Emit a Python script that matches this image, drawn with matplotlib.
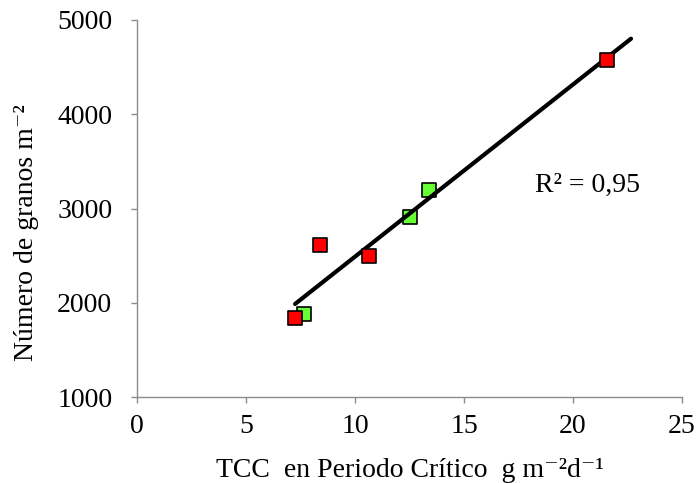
import numpy as np
import matplotlib as mpl
import matplotlib.pyplot as plt

mpl.rcParams.update({
    "font.family": ["Liberation Serif", "DejaVu Serif"],
    "font.size": 20,
})

# TCC in critical period (g m-2 d-1) vs grain number (m-2)
tcc_red = [7.25, 8.39, 10.64, 21.56]
granos_red = [1838, 2613, 2496, 4576]
tcc_green = [7.66, 12.52, 13.39]
granos_green = [1881, 2910, 3196]

x_all = np.array(tcc_red + tcc_green)
y_all = np.array(granos_red + granos_green)
slope, intercept = np.polyfit(x_all, y_all, 1)
x_fit = np.array([x_all.min(), x_all.max() + 1.1])

fig = plt.figure(figsize=(6.97, 4.83), dpi=100)
ax = fig.add_axes([0.1966, 0.178, 0.7819, 0.7806])

ax.plot(x_fit, slope * x_fit + intercept, color="k", lw=3,
        solid_capstyle="round", zorder=3)
ax.scatter(tcc_green, granos_green, marker="s", s=95, c="#66ff33",
           edgecolors="k", linewidths=1.2, zorder=2)
ax.scatter(tcc_red, granos_red, marker="s", s=95, c="#ff0000",
           edgecolors="k", linewidths=1.2, zorder=4)

ax.text(18.26, 3175, "R² = 0,95", fontsize=20, va="baseline", ha="left")

ax.set_xlim(0, 25)
ax.set_ylim(1000, 5000)
ax.set_xticks([0, 5, 10, 15, 20, 25])
ax.set_yticks([1000, 2000, 3000, 4000, 5000])
for s in ("top", "right"):
    ax.spines[s].set_visible(False)
for s in ("left", "bottom"):
    ax.spines[s].set_color("#8c8c8c")
    ax.spines[s].set_linewidth(1.0)
ax.tick_params(colors="#8c8c8c", labelcolor="k", length=4.3, width=1.0,
               labelsize=20)
ax.tick_params(axis="x", pad=8)
ax.tick_params(axis="y", pad=13.5)

xl = ax.set_xlabel("TCC  en Periodo Crítico  g m⁻²d⁻¹", fontsize=20,
                   va="baseline", ha="center")
ax.xaxis.set_label_coords(0.5, -0.212)
yl = ax.set_ylabel("Número de granos m⁻²", fontsize=20,
                   va="baseline", ha="center")
yl.set_rotation_mode("anchor")
ax.yaxis.set_label_coords(-0.191, 0.436)

fig.savefig("out.png", dpi=100)
